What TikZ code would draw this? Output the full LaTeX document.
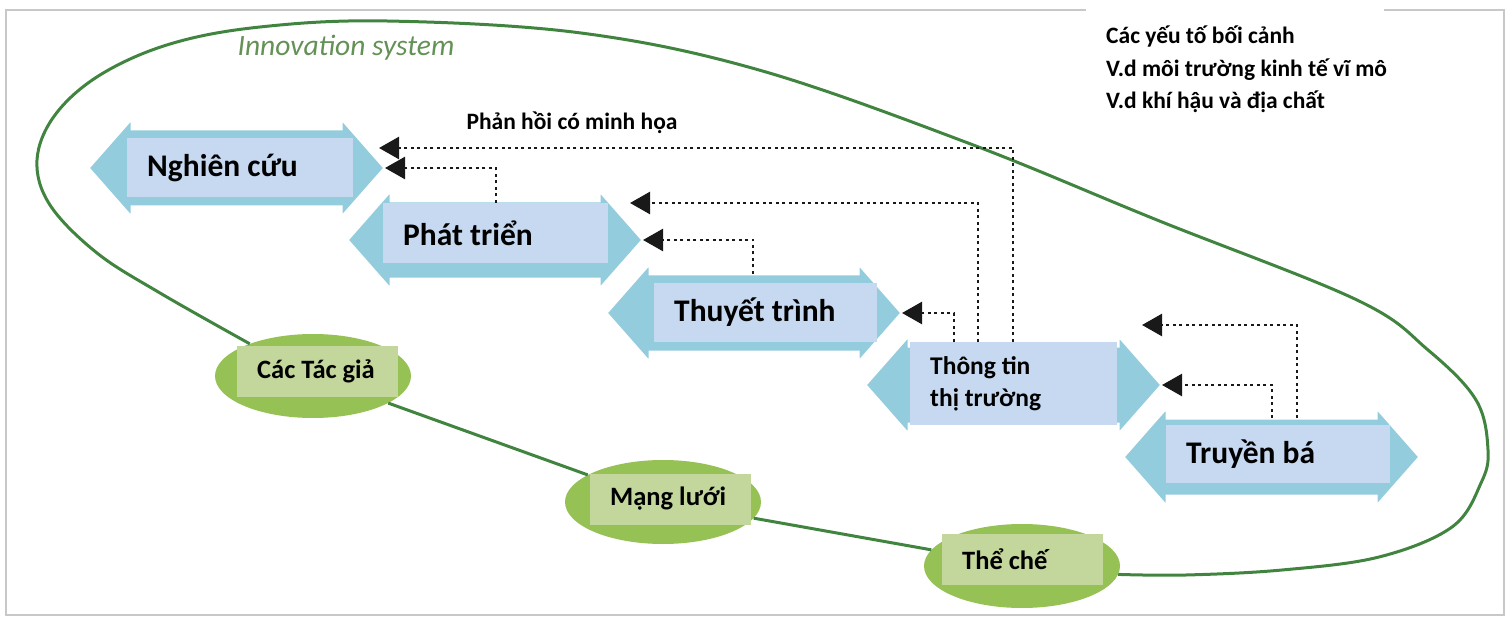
\documentclass[tikz,border=0pt]{standalone}
\usepackage{fontspec}
\setmainfont{Carlito}
\usetikzlibrary{arrows.meta,shapes.geometric}

\definecolor{arrowblue}{RGB}{147,205,221}
\definecolor{boxblue}{RGB}{198,217,241}
\definecolor{ovalgreen}{RGB}{150,193,85}
\definecolor{boxgreen}{RGB}{195,214,155}
\definecolor{ringgreen}{RGB}{64,132,64}
\definecolor{framegray}{RGB}{200,200,200}
\definecolor{titlegreen}{RGB}{100,145,85}

\newcommand{\normalgaps}{\spaceskip=0pt\relax}

\tikzset{
  stage/.style={fill=boxblue, text width=#1, align=left, inner xsep=20pt, inner ysep=0pt, anchor=west,
    font=\fontsize{31.5}{36}\selectfont\bfseries, execute at begin node=\normalgaps},
  actor/.style={ellipse, fill=ovalgreen, minimum width=196pt, minimum height=84pt, inner sep=0pt},
  tag/.style={fill=boxgreen, text width=121pt, minimum height=51pt, align=left, inner xsep=20pt, anchor=west,
    font=\fontsize{26.5}{30}\selectfont\bfseries, execute at begin node=\normalgaps},
  ring/.style={draw=ringgreen, line width=3pt},
  feedback/.style={black!90, line width=2.5pt, dash pattern=on 3pt off 3.5pt, -{Triangle[length=20pt,width=22pt]}},
}

\newcommand{\blockarrow}[4]{%
  \filldraw[fill=arrowblue, draw=white, line width=3pt] (#2,#4) -- (#2+44,#4-50) -- (#2+44,#4-39) -- (#3-44,#4-39)
    -- (#3-44,#4-50) -- (#3,#4) -- (#3-44,#4+50) -- (#3-44,#4+39) -- (#2+44,#4+39) -- (#2+44,#4+50) -- cycle;
  \coordinate (#1-r) at (#3,#4);
  \coordinate (#1-n) at ({(#2+#3)/2},#4-39);
}

\begin{document}
\begin{tikzpicture}[x=1pt,y=-1pt]
  \useasboundingbox (0,0) rectangle (1509,620);
  \draw[framegray, line width=2pt] (6,10) rectangle (1504,615);
  \fill[white] (1086,0) rectangle (1384,20);

  \node[actor] (ta) at (313,376) {};
  \node[actor] (ml) at (663,502) {};
  \node[actor] (tc) at (1022,566) {};
  \draw[ring] (ta) -- (ml);
  \draw[ring] (ml) -- (tc);
  \draw[ring] plot[smooth, tension=0.6] coordinates {(tc.-5) (1186,575) (1282,570) (1379,557) (1452,527) (1481,483)
    (1488,450) (1476,400) (1428,350) (1357,300) (1157,220) (968,143) (759,70) (581,33) (387,21) (260,27) (170,44)
    (100,75) (55,115) (37,160) (50,205) (97,253) (160,293) (ta.153)};
  \node[tag] at (237,371.5) {Các Tác giả};
  \node[tag] at (590,499) {Mạng lưới};
  \node[tag] at (942,559.5) {Thể chế};

  \node[font=\fontsize{29.5}{34}\selectfont\itshape, text=titlegreen] (sys) at (346,48) {Innovation system};

  \blockarrow{nc}{88}{385}{168}
  \blockarrow{pt}{347}{643}{240}
  \blockarrow{th}{606}{902}{313}
  \blockarrow{tt}{865}{1162}{385}
  \blockarrow{tb}{1123}{1420}{457}
  \node[stage=186pt, minimum height=59pt] (nc) at (127,167.5) {Nghiên cứu};
  \node[stage=185pt, minimum height=60pt] (pt) at (383,233) {Phát triển};
  \node[stage=183pt, minimum height=59pt] (th) at (654,312.5) {Thuyết trình};
  \node[stage=167pt, minimum height=83pt, font=\fontsize{25.5}{32}\selectfont\bfseries] (tt) at (910,383.5) {Thông tin\\thị trường};
  \node[stage=184pt, minimum height=58pt] (tb) at (1166,454) {Truyền bá};

  \coordinate (nc-fb) at (379,148);
  \coordinate (pt-fb) at (630,203);
  \coordinate (tt-fb) at (1142,325);
  \draw[feedback] (1013,0 |- tt.north) |- (nc-fb);
  \draw[feedback] (496,0 |- pt.north) |- (nc-r);
  \draw[feedback] (978,0 |- tt.north) |- (pt-fb);
  \draw[feedback] (753,0 |- th-n) |- (pt-r);
  \draw[feedback] (954,0 |- tt.north) |- (th-r);
  \draw[feedback] (1297,0 |- tb-n) |- (tt-fb);
  \draw[feedback] (1272,0 |- tb-n) |- (tt-r);
  \node[font=\fontsize{23.5}{28}\selectfont\bfseries] (fbl) at (572,123) {Phản hồi có minh họa};

  \node[anchor=north west, text width=300pt, inner xsep=20pt, inner ysep=12pt, align=left,
    font=\fontsize{23.5}{32.5}\selectfont\bfseries, execute at begin node=\normalgaps] (ctx) at (1086,14)
    {Các yếu tố bối cảnh\\V.d môi trường kinh tế vĩ mô\\V.d khí hậu và địa chất};
\end{tikzpicture}
\end{document}
